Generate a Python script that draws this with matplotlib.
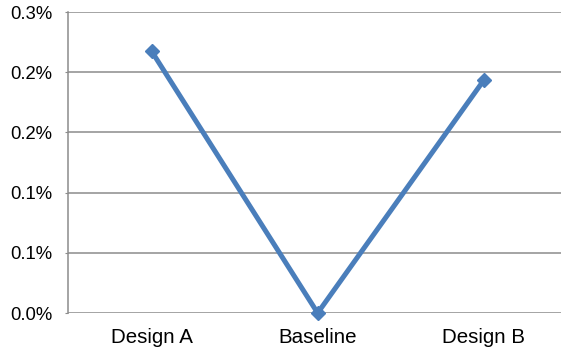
import numpy as np
import matplotlib
matplotlib.use("Agg")
import matplotlib.pyplot as plt
from matplotlib.ticker import PercentFormatter

# conversion lift per variant (fraction)
categories = ["Design A", "Baseline", "Design B"]
lift = [0.00261, 0.0, 0.00232]
yticks = [0.0, 0.0006, 0.0012, 0.0018, 0.0024, 0.0030]

plt.rcParams["font.family"] = ["Liberation Sans", "DejaVu Sans"]

fig = plt.figure(figsize=(5.61, 3.5), dpi=100)
ax = fig.add_axes([0.1221, 0.1057, 0.8779, 0.86])

x = np.arange(len(categories))
ax.plot(x, lift, color="#4a7ebb", linewidth=3.6, marker="D", markersize=7,
        solid_capstyle="butt", zorder=3, clip_on=False)

ax.set_xlim(-0.5, 2.465)
ax.set_ylim(0, 0.003)
ax.set_yticks(yticks)
ax.yaxis.set_major_formatter(PercentFormatter(xmax=1, decimals=1))
ax.set_xticks(x)
ax.set_xticklabels(categories)

ax.grid(axis="y", color="#8c8c8c", linewidth=1.1)
ax.set_axisbelow(True)
for side in ["top", "right", "bottom"]:
    ax.spines[side].set_visible(False)
ax.spines["left"].set_color("#8c8c8c")
ax.spines["left"].set_linewidth(1.1)

ax.tick_params(axis="y", length=2.2, color="#8c8c8c", pad=9.4, labelsize=13.3)
ax.tick_params(axis="x", length=0, pad=10.5, labelsize=14.8)

fig.savefig("out.png", dpi=100)
